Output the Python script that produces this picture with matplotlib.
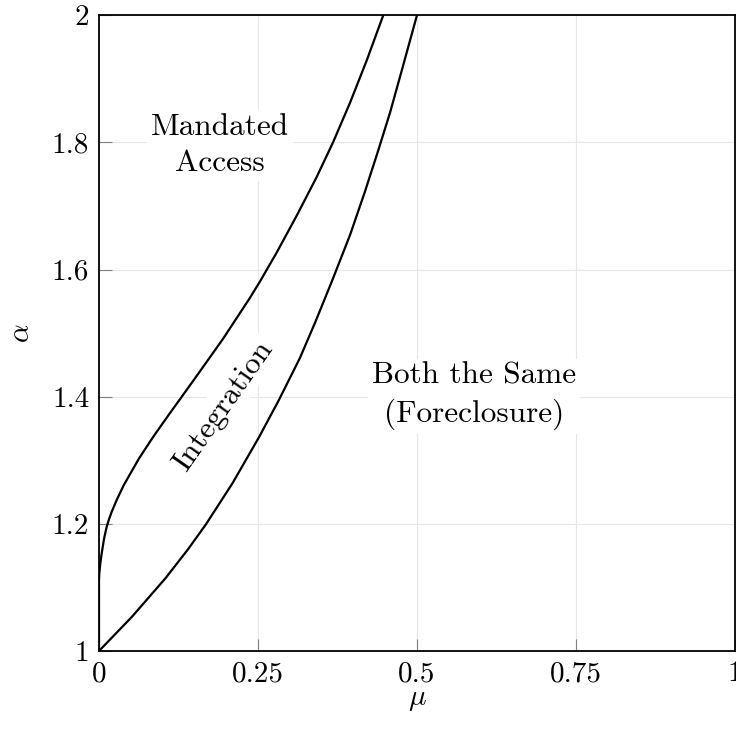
import matplotlib
matplotlib.use("Agg")
from matplotlib import pyplot as plt

plt.rcParams['font.family'] = ['cmr10', 'DejaVu Serif']
plt.rcParams['mathtext.fontset'] = 'cm'
plt.rcParams['axes.unicode_minus'] = False

# curva superior (mandated access / integration)
mu_sup = [0.0, 0.0, 0.0005, 0.002, 0.004, 0.008, 0.012, 0.016, 0.020, 0.028, 0.039,
          0.063, 0.086, 0.110, 0.128, 0.151, 0.195, 0.237, 0.253, 0.279, 0.311,
          0.342, 0.368, 0.395, 0.421, 0.447]
alfa_sup = [1.0, 1.112, 1.122, 1.137, 1.152, 1.177, 1.195, 1.208, 1.219, 1.238, 1.261,
            1.303, 1.338, 1.372, 1.397, 1.429, 1.491, 1.555, 1.581, 1.626, 1.685,
            1.745, 1.800, 1.863, 1.929, 2.0]

# curva inferior (integration / foreclosure)
mu_inf = [0.0, 0.052, 0.105, 0.140, 0.168, 0.210, 0.252, 0.283, 0.316, 0.340,
          0.366, 0.395, 0.418, 0.439, 0.458, 0.478, 0.5]
alfa_inf = [1.0, 1.054, 1.115, 1.160, 1.199, 1.264, 1.337, 1.395, 1.461, 1.517,
            1.581, 1.655, 1.722, 1.787, 1.848, 1.920, 2.0]

xticks = [0, 0.25, 0.5, 0.75, 1]
xlabels = ['0', '0.25', '0.5', '0.75', '1']
yticks = [1, 1.2, 1.4, 1.6, 1.8, 2]
ylabels = ['1', '1.2', '1.4', '1.6', '1.8', '2']

fig = plt.figure(figsize=(7.36, 7.29), dpi=100)
ax = fig.add_axes([0.1345, 0.107, 0.864, 0.872])

ax.plot(mu_sup, alfa_sup, color='black', lw=1.6, solid_capstyle='butt', zorder=3)
ax.plot(mu_inf, alfa_inf, color='black', lw=1.6, solid_capstyle='butt', zorder=3)

ax.set_xlim(0, 1)
ax.set_ylim(1, 2)
ax.set_xticks(xticks)
ax.set_xticklabels(xlabels)
ax.set_yticks(yticks)
ax.set_yticklabels(ylabels)
ax.tick_params(direction='in', length=9, width=0.8, color='#808080',
               labelsize=21, pad=7)
ax.grid(True, color='#e6e6e6', lw=0.8, zorder=0)
ax.set_axisbelow(True)
for s in ax.spines.values():
    s.set_linewidth(1.3)

ax.set_xlabel(r'$\mu$', fontsize=21, labelpad=0)
ax.set_ylabel(r'$\alpha$', fontsize=21, labelpad=12)

caja = dict(facecolor='white', edgecolor='none', pad=3)
ax.text(0.19, 1.796, 'Mandated\nAccess', fontsize=22.5, ha='center', va='center',
        linespacing=1.4, bbox=caja, zorder=2)
ax.text(0.59, 1.402, 'Both the Same\n(Foreclosure)', fontsize=22.5, ha='center',
        va='center', linespacing=1.4, bbox=caja, zorder=2)
ax.text(0.195, 1.386, 'Integration', fontsize=22.5, ha='center', va='center',
        rotation=55, rotation_mode='anchor', bbox=caja, zorder=2)

fig.savefig('out.png', dpi=100)
